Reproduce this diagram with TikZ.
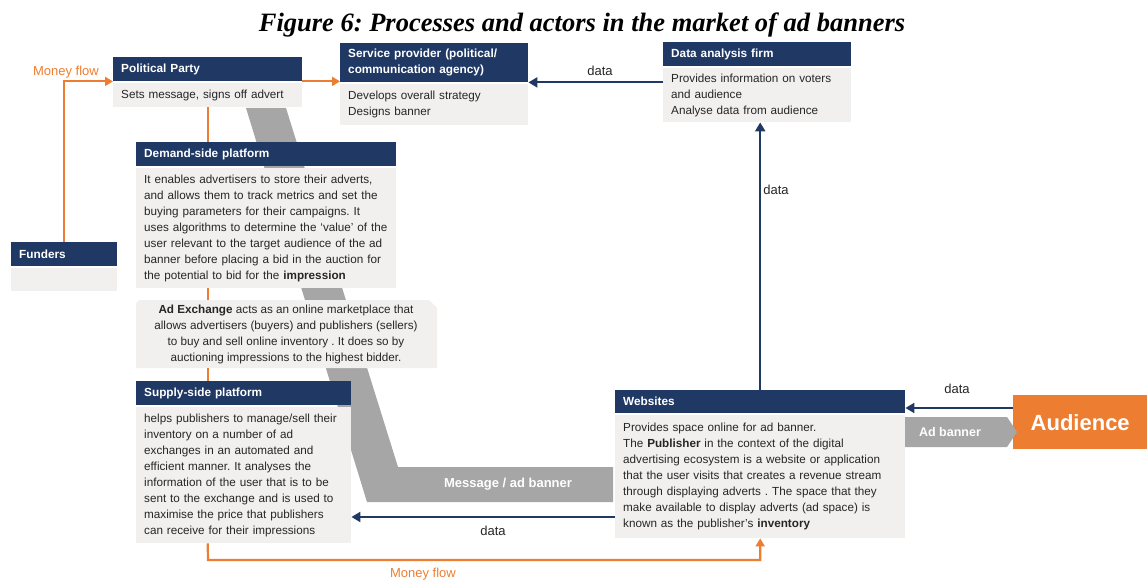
\documentclass[tikz,border=0pt]{standalone}
\usepackage{fontspec}
\setmainfont{Liberation Sans}
\newfontfamily\titlefont{Liberation Serif}
\usetikzlibrary{arrows.meta}
\definecolor{navy}{HTML}{1F3864}
\definecolor{org}{HTML}{ED7D31}
\definecolor{bodygray}{HTML}{F2F0EE}
\definecolor{band}{HTML}{A6A6A6}
\definecolor{txt}{HTML}{262626}
\frenchspacing
\begin{document}
\begin{tikzpicture}[x=1pt,y=-1pt,
 hdr/.style={fill=navy, text=white, font=\fontsize{11.8}{16}\selectfont\bfseries, anchor=north west, align=left, inner xsep=8pt, inner ysep=0pt},
 bodybox/.style={fill=bodygray, text=txt, font=\fontsize{11.7}{16}\selectfont, anchor=north west, align=left, inner xsep=8pt, inner ysep=0pt},
 dataarrow/.style={draw=navy, line width=2.2pt, -{Triangle[length=9pt,width=10pt]}},
 money/.style={draw=org, line width=2.2pt},
 moneyarrow/.style={money, -{Triangle[length=8pt,width=9pt]}},
 lbl/.style={font=\fontsize{13}{15}\selectfont, text=txt},
 orglbl/.style={font=\fontsize{13}{15}\selectfont, text=org},
 whitelbl/.style={font=\fontsize{13}{15}\selectfont\bfseries, text=white},
]
\useasboundingbox (0,0) rectangle (1147,580);

% title
\node[font=\titlefont\bfseries\itshape\fontsize{26.5}{30}\selectfont] (title) at (582,25) {Figure 6: Processes and actors in the market of ad banners};

% gray band (behind boxes)
\fill[band] (246,108) -- (286,108) -- (398,467) -- (613,467) -- (613,502) -- (367,502) -- cycle;
\node[whitelbl] (msg) at (508,484) {Message / ad banner};

% Political Party
\node[hdr, text width=173pt, minimum height=24pt] (pph) at (113,57) {Political Party};
\node[bodybox, text width=173pt, minimum height=24pt] (ppb) at (113,83) {Sets message, signs off advert};

% Service provider
\node[hdr, text width=172pt, minimum height=39pt] (sph) at (340,43) {Service provider (political/\\communication agency)};
\node[bodybox, text width=172pt, minimum height=41pt] (spb) at (340,84) {Develops overall strategy\\Designs banner};

% Data analysis firm
\node[hdr, text width=172pt, minimum height=24pt] (dah) at (663,42) {Data analysis firm};
\node[bodybox, text width=172pt, minimum height=54pt] (dab) at (663,68) {Provides information on voters\\and audience\\Analyse data from audience};

% Funders
\node[hdr, text width=90pt, minimum height=24pt] (fh) at (11,242) {Funders};
\node[bodybox, text width=90pt, minimum height=23pt] (fb) at (11,268) {};

% Demand-side platform
\node[hdr, text width=244pt, minimum height=24pt] (dsph) at (136,142) {Demand-side platform};
\node[bodybox, text width=244pt, minimum height=120pt] (dspb) at (136,168) {It enables advertisers to store their adverts,\\and allows them to track metrics and set the\\buying parameters for their campaigns. It\\uses algorithms to determine the ‘value’ of the\\user relevant to the target audience of the ad\\banner before placing a bid in the auction for\\the potential to bid for the \textbf{impression}};

% Ad exchange
\fill[bodygray] (139,300) -- (429,300) -- (437,308) -- (437,368) -- (136,368) -- (136,303) -- cycle;
\node[font=\fontsize{11.7}{16}\selectfont, text=txt, align=center] (adx) at (286,334) {\textbf{Ad Exchange} acts as an online marketplace that\\allows advertisers (buyers) and publishers (sellers)\\to buy and sell online inventory . It does so by\\auctioning impressions to the highest bidder.};

% Supply-side platform
\node[hdr, text width=199pt, minimum height=24pt] (ssph) at (136,381) {Supply-side platform};
\node[bodybox, text width=199pt, minimum height=136pt] (sspb) at (136,407) {helps publishers to manage/sell their\\inventory on a number of ad\\exchanges in an automated and\\efficient manner. It analyses the\\information of the user that is to be\\sent to the exchange and is used to\\maximise the price that publishers\\can receive for their impressions};

% Websites
\node[hdr, text width=274pt, minimum height=23pt] (webh) at (615,390) {Websites};
\node[bodybox, text width=274pt, minimum height=123pt] (webb) at (615,415) {Provides space online for ad banner.\\The \textbf{Publisher} in the context of the digital\\advertising ecosystem is a website or application\\that the user visits that creates a revenue stream\\through displaying adverts . The space that they\\make available to display adverts (ad space) is\\known as the publisher’s \textbf{inventory}};

% Audience
\node[fill=org, text=white, font=\fontsize{22}{26}\selectfont\bfseries, anchor=north west, minimum width=134pt, minimum height=54pt, inner sep=0pt] (aud) at (1013,395) {Audience};

% Ad banner arrow
\fill[band] (905,417) -- (1007,417) -- (1017,432) -- (1007,447) -- (905,447) -- cycle;
\node[font=\fontsize{12.5}{15}\selectfont\bfseries, text=white] (adb) at (950,432) {Ad banner};

% money flow
\draw[moneyarrow] (fh.north) |- (pph.south west);
\node[orglbl] (mf1) at (66,72) {Money flow};
\draw[moneyarrow] (pph.south east) -- (pph.south east -| sph.west);
\draw[money] (ppb.south) -- (ppb.south |- dsph.north);
\draw[money] (ppb.south |- dspb.south) -- (ppb.south |- 0,300);
\draw[money] (ppb.south |- 0,368) -- (ppb.south |- ssph.north);
\coordinate (mfc) at (208,560);
\draw[moneyarrow] (ppb.south |- sspb.south) -- (mfc) -| (webb.south);
\node[orglbl] (mf2) at (423,574) {Money flow};

% data flows
\draw[dataarrow] (dab.west |- sph.south) -- (sph.south east);
\node[lbl] (d1) at (600,71) {data};
\draw[dataarrow] (webh.north) -- (webh.north |- dab.south);
\node[lbl] (d2) at (776,190) {data};
\draw[dataarrow] (aud.west |- 0,408) -- (webh.east |- 0,408);
\node[lbl] (d3) at (957,389) {data};
\draw[dataarrow] (webb.west |- 0,517) -- (sspb.east |- 0,517);
\node[lbl] (d4) at (493,531) {data};
\end{tikzpicture}
\end{document}
